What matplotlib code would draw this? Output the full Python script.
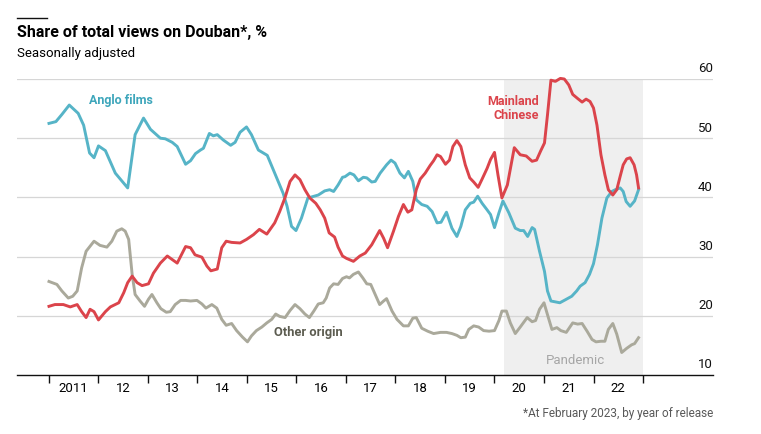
import matplotlib.pyplot as plt

# Share of total views on Douban, % (decimal years)
anglo_t = [2011.0, 2011.14, 2011.26, 2011.41, 2011.59, 2011.70, 2011.82, 2011.91, 2012.0, 2012.14,
           2012.34, 2012.47, 2012.59, 2012.74, 2012.91, 2013.05, 2013.25, 2013.35, 2013.49, 2013.59,
           2013.76, 2013.86, 2013.96, 2014.06, 2014.12, 2014.24, 2014.32, 2014.40, 2014.52, 2014.67,
           2014.76, 2014.86, 2014.99, 2015.09, 2015.23, 2015.41, 2015.56, 2015.73, 2015.81, 2015.90,
           2015.99, 2016.10, 2016.23, 2016.44, 2016.57, 2016.67, 2016.75, 2016.84, 2016.93, 2016.98,
           2017.08, 2017.16, 2017.25, 2017.35, 2017.42, 2017.52, 2017.59, 2017.69, 2017.82, 2017.91,
           2017.99, 2018.09, 2018.18, 2018.26, 2018.35, 2018.42, 2018.53, 2018.64, 2018.74, 2018.84,
           2018.92, 2019.03, 2019.14, 2019.24, 2019.32, 2019.41, 2019.51, 2019.58, 2019.66, 2019.75,
           2019.85, 2019.92, 2020.0, 2020.09, 2020.17, 2020.29, 2020.42, 2020.52, 2020.59, 2020.67,
           2020.76, 2020.81, 2020.91, 2021.01, 2021.07, 2021.14, 2021.32, 2021.43, 2021.56, 2021.66,
           2021.73, 2021.83, 2021.92, 2022.0, 2022.08, 2022.17, 2022.27, 2022.37, 2022.44, 2022.54,
           2022.60, 2022.66, 2022.74, 2022.83, 2022.91]
anglo_v = [52.5, 52.8, 54.0, 55.6, 54.2, 52.2, 47.5, 46.7, 48.7, 47.9,
           44.1, 42.8, 41.6, 50.6, 53.4, 51.5, 50.0, 49.9, 49.3, 48.6,
           45.6, 46.2, 47.4, 48.0, 48.3, 50.8, 50.4, 50.6, 49.7, 48.8,
           49.3, 51.0, 51.9, 50.6, 48.0, 47.1, 44.1, 40.7, 38.5, 35.1,
           34.4, 36.5, 39.9, 40.4, 41.1, 41.3, 41.0, 42.1, 43.4, 43.5,
           44.1, 43.8, 42.8, 43.4, 43.3, 42.6, 42.7, 44.1, 45.5, 46.3,
           45.8, 44.1, 43.3, 44.4, 42.7, 39.6, 38.8, 38.5, 37.6, 35.7,
           35.8, 37.5, 34.8, 33.4, 35.1, 37.9, 39.0, 39.2, 40.2, 39.0,
           37.9, 37.1, 34.9, 37.4, 39.4, 37.4, 34.8, 34.4, 34.4, 33.4,
           34.9, 34.6, 30.9, 27.5, 24.2, 22.5, 22.2, 22.7, 23.3, 24.2,
           25.0, 25.6, 27.0, 28.8, 32.0, 36.5, 39.9, 41.0, 41.3, 41.6,
           41.0, 39.3, 38.5, 39.4, 41.3]

china_t = [2011.0, 2011.12, 2011.29, 2011.43, 2011.57, 2011.66, 2011.75, 2011.83, 2011.91, 2012.0,
           2012.14, 2012.24, 2012.41, 2012.51, 2012.59, 2012.68, 2012.78, 2012.88, 2013.01, 2013.11,
           2013.25, 2013.39, 2013.49, 2013.59, 2013.76, 2013.86, 2013.95, 2014.09, 2014.19, 2014.27,
           2014.40, 2014.49, 2014.58, 2014.69, 2014.86, 2014.99, 2015.13, 2015.25, 2015.40, 2015.56,
           2015.66, 2015.77, 2015.87, 2015.97, 2016.07, 2016.17, 2016.27, 2016.39, 2016.48, 2016.57,
           2016.66, 2016.77, 2016.84, 2016.93, 2017.01, 2017.15, 2017.28, 2017.39, 2017.52, 2017.68,
           2017.76, 2017.84, 2017.96, 2018.06, 2018.16, 2018.25, 2018.33, 2018.42, 2018.50, 2018.60,
           2018.70, 2018.77, 2018.84, 2018.91, 2019.01, 2019.09, 2019.16, 2019.24, 2019.32, 2019.41,
           2019.50, 2019.58, 2019.67, 2019.75, 2019.85, 2019.92, 2020.0, 2020.07, 2020.15, 2020.26,
           2020.40, 2020.52, 2020.64, 2020.76, 2020.85, 2020.93, 2021.01, 2021.07, 2021.14, 2021.23,
           2021.33, 2021.41, 2021.50, 2021.58, 2021.68, 2021.77, 2021.85, 2021.93, 2022.0, 2022.07,
           2022.15, 2022.23, 2022.30, 2022.39, 2022.47, 2022.54, 2022.60, 2022.67, 2022.74, 2022.82,
           2022.87, 2022.91]
china_v = [21.6, 21.9, 21.9, 21.5, 21.9, 20.7, 19.7, 21.1, 20.7, 19.3,
           20.7, 21.5, 22.2, 23.9, 25.6, 26.7, 25.6, 25.1, 25.4, 27.2,
           28.9, 30.1, 29.5, 28.9, 31.7, 31.5, 30.3, 29.9, 28.4, 27.6,
           27.9, 31.5, 32.6, 32.4, 32.3, 32.9, 33.7, 34.6, 33.8, 35.7,
           37.6, 40.0, 42.7, 43.8, 43.0, 41.3, 39.9, 39.0, 37.9, 36.5,
           34.0, 33.3, 31.6, 30.1, 29.7, 29.2, 30.1, 30.6, 32.0, 34.4,
           33.1, 31.5, 34.3, 36.8, 38.8, 37.5, 37.9, 41.3, 43.1, 44.1,
           45.4, 46.2, 47.2, 46.9, 45.6, 46.3, 48.6, 49.6, 48.6, 45.5,
           43.3, 42.6, 41.7, 43.1, 44.9, 46.4, 47.6, 43.8, 39.9, 42.1,
           48.4, 47.2, 47.0, 46.1, 46.3, 47.8, 49.2, 53.9, 59.8, 59.6,
           60.1, 60.0, 59.0, 57.4, 56.7, 56.1, 56.6, 56.2, 55.1, 52.2,
           47.2, 43.8, 41.3, 40.4, 41.3, 43.6, 45.5, 46.5, 46.7, 45.5,
           43.8, 41.6]

other_t = [2011.0, 2011.16, 2011.26, 2011.39, 2011.48, 2011.57, 2011.66, 2011.75, 2011.91, 2012.03,
           2012.17, 2012.27, 2012.37, 2012.47, 2012.54, 2012.61, 2012.68, 2012.74, 2012.84, 2012.93,
           2013.01, 2013.08, 2013.18, 2013.26, 2013.37, 2013.45, 2013.55, 2013.66, 2013.76, 2013.86,
           2013.99, 2014.09, 2014.17, 2014.29, 2014.39, 2014.49, 2014.58, 2014.69, 2014.79, 2014.91,
           2015.01, 2015.09, 2015.19, 2015.30, 2015.40, 2015.50, 2015.58, 2015.66, 2015.77, 2015.87,
           2015.97, 2016.07, 2016.17, 2016.26, 2016.35, 2016.44, 2016.54, 2016.60, 2016.67, 2016.75,
           2016.84, 2016.93, 2017.01, 2017.07, 2017.15, 2017.25, 2017.34, 2017.42, 2017.50, 2017.59,
           2017.68, 2017.76, 2017.82, 2017.93, 2018.03, 2018.16, 2018.26, 2018.35, 2018.42, 2018.53,
           2018.65, 2018.77, 2018.91, 2019.03, 2019.14, 2019.24, 2019.32, 2019.41, 2019.48, 2019.58,
           2019.68, 2019.78, 2019.89, 2020.0, 2020.09, 2020.15, 2020.24, 2020.32, 2020.42, 2020.52,
           2020.66, 2020.76, 2020.83, 2020.91, 2021.0, 2021.07, 2021.16, 2021.26, 2021.34, 2021.45,
           2021.58, 2021.68, 2021.77, 2021.87, 2021.97, 2022.05, 2022.15, 2022.23, 2022.30, 2022.39,
           2022.47, 2022.57, 2022.67, 2022.77, 2022.83, 2022.91]
other_v = [25.8, 25.3, 24.2, 23.0, 23.3, 24.2, 28.1, 30.9, 32.6, 31.9,
           31.6, 32.6, 34.3, 34.7, 34.3, 32.9, 27.0, 23.6, 22.5, 21.6,
           22.8, 23.6, 22.2, 21.2, 20.6, 20.7, 21.9, 22.6, 22.6, 22.5,
           22.6, 22.0, 21.3, 21.9, 21.3, 19.4, 18.4, 18.7, 17.5, 16.4,
           15.6, 16.6, 17.5, 18.1, 18.8, 19.4, 20.3, 19.9, 19.7, 20.9,
           21.9, 21.2, 20.3, 19.7, 20.8, 22.0, 22.2, 23.0, 24.7, 25.4,
           25.3, 26.3, 26.6, 26.4, 27.0, 27.4, 26.4, 25.4, 25.3, 23.6,
           21.9, 22.5, 22.9, 20.8, 19.4, 18.3, 18.3, 19.6, 19.7, 17.9,
           17.4, 17.0, 17.2, 17.2, 17.0, 16.7, 16.3, 16.4, 17.7, 18.3,
           18.1, 17.5, 17.4, 17.5, 19.2, 20.8, 20.8, 18.8, 17.0, 18.1,
           19.7, 19.0, 19.2, 21.1, 22.2, 20.2, 17.7, 18.0, 17.5, 17.2,
           18.8, 18.6, 18.7, 17.4, 16.0, 15.6, 15.7, 15.7, 17.7, 18.7,
           16.9, 13.8, 14.5, 15.1, 15.3, 16.3]

years = list(range(2011, 2023))
year_labels = ["2011", "12", "13", "14", "15", "16", "17", "18", "19", "20", "21", "22"]
y_ticks = [10, 20, 30, 40, 50, 60]
pandemic = (2020.2, 2023.0)

teal = "#56b4c7"
red = "#db444b"
grey = "#aaa99b"

plt.rcParams['font.family'] = ['Roboto', 'DejaVu Sans']

fig = plt.figure(figsize=(7.61, 4.34), dpi=100)
ax = fig.add_axes([17 / 761, 1 - 375 / 434, 696 / 761, 296 / 434])
ax.set_xlim(2010.354, 2024.414)
ax.set_ylim(10, 60)

# Pandemic shading
ax.axvspan(pandemic[0], pandemic[1], color="#efefef", lw=0, zorder=0)
ax.text(2021.04, 12.5, "Pandemic", color="#a6a6a6", fontsize=9.5, va="center", ha="left")

# Gridlines and right-hand labels
for v in y_ticks[1:]:
    ax.axhline(v, color="#d6d6d6", lw=0.9, zorder=1)
for v in y_ticks:
    ax.text(1.0, v + 0.6, str(v), transform=ax.get_yaxis_transform(),
            ha="right", va="bottom", fontsize=9.5, color="#111111")
ax.axhline(10, color="#111111", lw=1.0, zorder=4, clip_on=False)

# Lines
ax.plot(other_t, other_v, color=grey, lw=2.1, zorder=3, solid_joinstyle="round")
ax.plot(anglo_t, anglo_v, color=teal, lw=2.1, zorder=3, solid_joinstyle="round")
ax.plot(china_t, china_v, color=red, lw=2.1, zorder=3, solid_joinstyle="round", clip_on=False)

# Series labels
ax.text(2011.81, 56.45, "Anglo films", color="#3ea6bb", fontsize=9, fontweight="bold",
        va="center", ha="left")
ax.text(2020.9, 55.0, "Mainland\nChinese", color=red, fontsize=9, fontweight="bold",
        va="center", ha="right", linespacing=1.1)
ax.text(2015.55, 17.1, "Other origin", color="#5c5c50", fontsize=9.3, fontweight="bold",
        va="center", ha="left")

# X axis: ticks at year boundaries, labels mid-year
ax.set_xticks(years + [2023])
ax.set_xticklabels([])
ax.set_xticks([y + 0.5 for y in years], minor=True)
ax.set_xticklabels(year_labels, minor=True, fontsize=9.5)
ax.tick_params(axis="x", which="major", length=6, width=1, color="#111111", direction="out")
ax.tick_params(axis="x", which="minor", length=0, pad=5)
ax.set_yticks([])
for s in ax.spines.values():
    s.set_visible(False)

# Title block
fig.add_artist(plt.Line2D([17 / 761, 47 / 761], [1 - 18 / 434] * 2, color="#111111", lw=1))
fig.text(17 / 761, 1 - 33 / 434, "Share of total views on Douban*, %", fontsize=11.5,
         fontweight="bold", va="center", ha="left")
fig.text(17 / 761, 1 - 53 / 434, "Seasonally adjusted", fontsize=9.5, va="center", ha="left")
fig.text(713 / 761, 1 - 413 / 434, "*At February 2023, by year of release", fontsize=8.5,
         color="#595959", va="center", ha="right")

fig.savefig("out.png", dpi=100)
